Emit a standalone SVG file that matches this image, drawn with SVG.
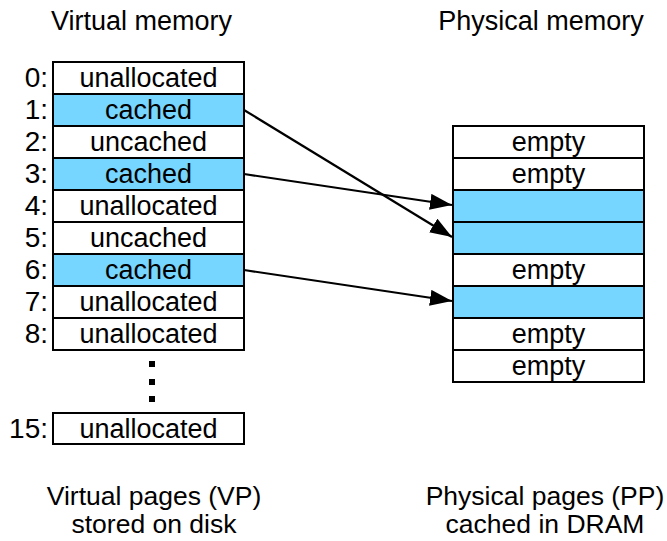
<svg xmlns="http://www.w3.org/2000/svg" width="667" height="541" viewBox="0 0 667 541">
<style>
text{font-family:"Liberation Sans",Arial,sans-serif;font-size:27px;fill:#000}
.c{text-anchor:middle}
.n{text-anchor:end;font-size:28px}
.t{font-size:26.5px;text-anchor:middle}
.w{fill:#fff;stroke:#000;stroke-width:2}
.b{fill:#76D6FF;stroke:#000;stroke-width:2}
.a{stroke:#000;stroke-width:2.2;fill:none}
</style>
<defs>
<marker id="ah" markerUnits="userSpaceOnUse" markerWidth="24" markerHeight="18" refX="22" refY="8" orient="auto">
<path d="M0,0 L22,8 L0,16 z" fill="#000"/>
</marker>
</defs>
<rect width="667" height="541" fill="#fff"/>
<text class="c" x="141.5" y="30">Virtual memory</text>
<text class="c" x="541" y="30">Physical memory</text>
<g id="vp0"><rect class="w" x="53" y="62" width="191" height="32"/><text class="c" x="148.5" y="87">unallocated</text><text class="n" x="48" y="87">0:</text></g>
<g id="vp1"><rect class="b" x="53" y="94" width="191" height="32"/><text class="c" x="148.5" y="119">cached</text><text class="n" x="48" y="119">1:</text></g>
<g id="vp2"><rect class="w" x="53" y="126" width="191" height="32"/><text class="c" x="148.5" y="151">uncached</text><text class="n" x="48" y="151">2:</text></g>
<g id="vp3"><rect class="b" x="53" y="158" width="191" height="32"/><text class="c" x="148.5" y="183">cached</text><text class="n" x="48" y="183">3:</text></g>
<g id="vp4"><rect class="w" x="53" y="190" width="191" height="32"/><text class="c" x="148.5" y="215">unallocated</text><text class="n" x="48" y="215">4:</text></g>
<g id="vp5"><rect class="w" x="53" y="222" width="191" height="32"/><text class="c" x="148.5" y="247">uncached</text><text class="n" x="48" y="247">5:</text></g>
<g id="vp6"><rect class="b" x="53" y="254" width="191" height="32"/><text class="c" x="148.5" y="279">cached</text><text class="n" x="48" y="279">6:</text></g>
<g id="vp7"><rect class="w" x="53" y="286" width="191" height="32"/><text class="c" x="148.5" y="311">unallocated</text><text class="n" x="48" y="311">7:</text></g>
<g id="vp8"><rect class="w" x="53" y="318" width="191" height="32"/><text class="c" x="148.5" y="343">unallocated</text><text class="n" x="48" y="343">8:</text></g>
<g id="dots"><rect x="149" y="361" width="6" height="6"/><rect x="149" y="379" width="6" height="6"/><rect x="149" y="396" width="6" height="6"/></g>
<g id="vp15"><rect class="w" x="53" y="413" width="191" height="31"/><text class="c" x="148.5" y="438">unallocated</text><text class="n" x="48" y="438">15:</text></g>
<g id="pp0"><rect class="w" x="453" y="126" width="191" height="32"/><text class="c" x="548.5" y="151">empty</text></g>
<g id="pp1"><rect class="w" x="453" y="158" width="191" height="32"/><text class="c" x="548.5" y="183">empty</text></g>
<g id="pp2"><rect class="b" x="453" y="190" width="191" height="32"/></g>
<g id="pp3"><rect class="b" x="453" y="222" width="191" height="32"/></g>
<g id="pp4"><rect class="w" x="453" y="254" width="191" height="32"/><text class="c" x="548.5" y="279">empty</text></g>
<g id="pp5"><rect class="b" x="453" y="286" width="191" height="32"/></g>
<g id="pp6"><rect class="w" x="453" y="318" width="191" height="32"/><text class="c" x="548.5" y="343">empty</text></g>
<g id="pp7"><rect class="w" x="453" y="350" width="191" height="32"/><text class="c" x="548.5" y="375">empty</text></g>
<g id="connectors">
<line class="a" x1="244" y1="110" x2="452" y2="237" marker-end="url(#ah)"/>
<line class="a" x1="244" y1="174" x2="452" y2="205" marker-end="url(#ah)"/>
<line class="a" x1="244" y1="270" x2="452" y2="301" marker-end="url(#ah)"/>
</g>
<text class="t" x="154" y="505">Virtual pages (VP)</text>
<text class="t" x="154" y="533">stored on disk</text>
<text class="t" x="545" y="505">Physical pages (PP)</text>
<text class="t" x="545" y="533">cached in DRAM</text>
</svg>
